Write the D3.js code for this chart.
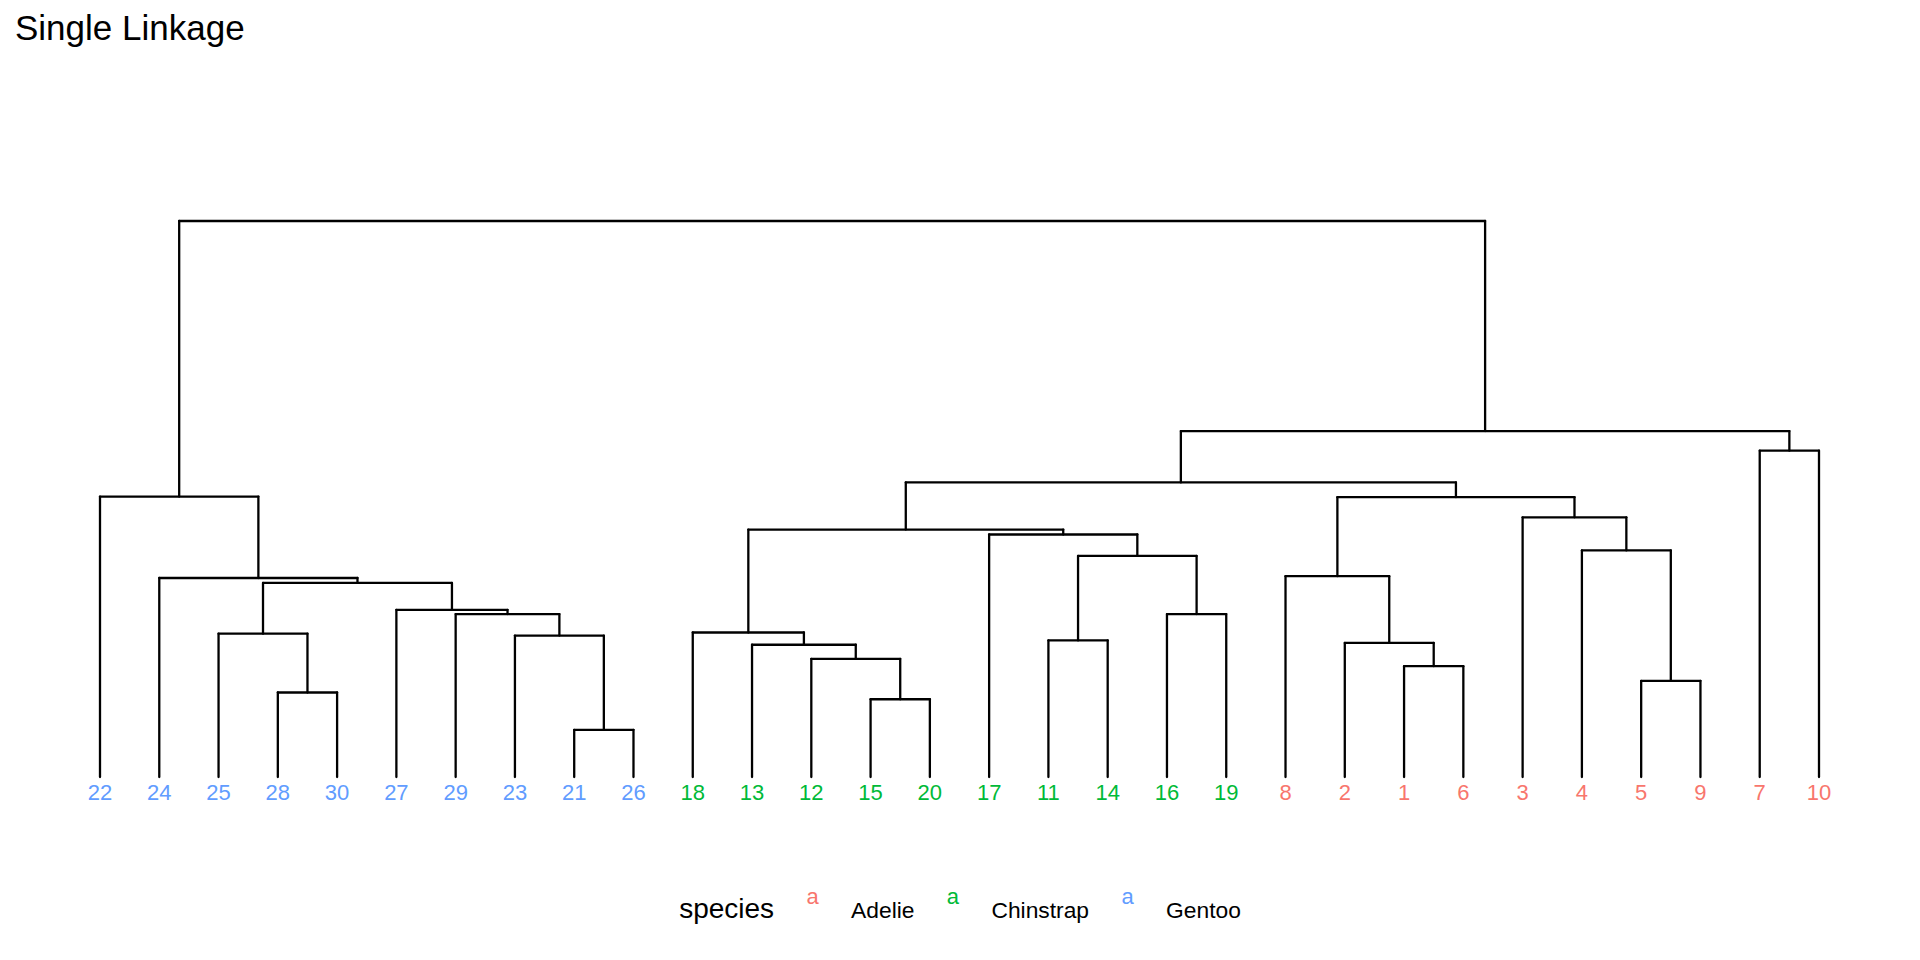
<!DOCTYPE html>
<html>
<head>
<meta charset="utf-8">
<script src="https://cdn.jsdelivr.net/npm/d3@7/dist/d3.min.js"></script>
<style>
    html, body { margin: 0; padding: 0; background: #fff; }
    text { font-family: "Liberation Sans", Arial, Helvetica, sans-serif; }
</style>
</head>
<body>
<div id="chart"></div>
<script>
// hclust-style merge table: negative = leaf label, positive = earlier merge (1-based)
const mergeLeft = [-21, -28, -23, -29, -27, -25, 6, -24, -22, -15, -12, -13, -18, -11, -16, 14, -17, 13, -1, -2, -8, -5, -4, -3, 21, 18, -7, 26, 9];
const mergeRight = [-26, -30, 1, 3, 4, 2, 5, 7, 8, -20, 10, 11, 12, -14, -19, 15, 16, 17, -6, 19, 20, -9, 22, 23, 24, 25, -10, 27, 28];
const mergeHeight = [0.385, 0.69, 1.155, 1.33, 1.365, 1.17, 1.585, 1.625, 2.29,
    0.635, 0.965, 1.08, 1.18, 1.115, 1.33, 1.805, 1.98, 2.02,
    0.905, 1.095, 1.64, 0.785, 1.85, 2.12, 2.285, 2.405, 2.665, 2.825, 4.54];

const speciesNames = ["Adelie", "Chinstrap", "Gentoo"];
const speciesColors = ["#F8766D", "#00BA38", "#619CFF"];
// observation -> species (1-10 Adelie, 11-20 Chinstrap, 21-30 Gentoo)
const obsSpecies = ["Adelie", "Adelie", "Adelie", "Adelie", "Adelie", "Adelie", "Adelie", "Adelie", "Adelie", "Adelie",
    "Chinstrap", "Chinstrap", "Chinstrap", "Chinstrap", "Chinstrap", "Chinstrap", "Chinstrap", "Chinstrap", "Chinstrap", "Chinstrap",
    "Gentoo", "Gentoo", "Gentoo", "Gentoo", "Gentoo", "Gentoo", "Gentoo", "Gentoo", "Gentoo", "Gentoo"];

const width = 1920, height = 960;

function buildNode(id) {
    if (id < 0) return {name: String(-id), height: 0};
    const i = id - 1;
    return {
        height: mergeHeight[i],
        children: [buildNode(mergeLeft[i]), buildNode(mergeRight[i])]
    };
}

const root = d3.hierarchy(buildNode(mergeLeft.length));
const leaves = root.leaves();

const x = d3.scalePoint()
    .domain(leaves.map(d => d.data.name))
    .range([100, 1819]);

const y = d3.scaleLinear()
    .domain([0, root.data.height])
    .range([777, 221]);

const color = d3.scaleOrdinal().domain(speciesNames).range(speciesColors);

// x of internal nodes = midpoint of children
root.eachAfter(d => {
    d.px = d.children ? (d.children[0].px + d.children[1].px) / 2 : x(d.data.name);
    d.py = y(d.data.height);
});

const svg = d3.select("#chart")
    .append("svg")
    .attr("width", width)
    .attr("height", height);

svg.append("text")
    .attr("x", 15)
    .attr("y", 40)
    .attr("font-size", 35)
    .attr("fill", "#000")
    .text("Single Linkage");

const segs = [];
root.each(d => {
    if (!d.children) return;
    const [a, b] = d.children;
    segs.push({x1: a.px, y1: d.py, x2: b.px, y2: d.py});
    segs.push({x1: a.px, y1: a.py, x2: a.px, y2: d.py});
    segs.push({x1: b.px, y1: b.py, x2: b.px, y2: d.py});
});

svg.append("g")
    .attr("class", "branches")
    .selectAll("line")
    .data(segs)
    .enter()
    .append("line")
    .attr("x1", d => d.x1).attr("y1", d => d.y1)
    .attr("x2", d => d.x2).attr("y2", d => d.y2)
    .attr("stroke", "#000")
    .attr("stroke-width", 2.3)
    .attr("stroke-linecap", "round");

svg.append("g")
    .attr("class", "labels")
    .selectAll("text")
    .data(leaves)
    .enter()
    .append("text")
    .attr("x", d => d.px)
    .attr("y", 800)
    .attr("text-anchor", "middle")
    .attr("font-size", 22)
    .attr("fill", d => color(obsSpecies[+d.data.name - 1]))
    .text(d => d.data.name);

// legend, laid out left to right and centred
const legend = svg.append("g").attr("class", "legend");
const gap = 38.5;
const title = legend.append("text")
    .attr("y", 918)
    .attr("font-size", 28)
    .text("species");
let cursor = title.node().getComputedTextLength();
const items = speciesNames.map(s => {
    const key = legend.append("text")
        .attr("y", 904)
        .attr("text-anchor", "middle")
        .attr("font-size", 22)
        .attr("fill", color(s))
        .text("a");
    const label = legend.append("text")
        .attr("y", 918)
        .attr("font-size", 22.8)
        .text(s);
    const keyX = cursor + gap;
    const labelX = keyX + gap;
    cursor = labelX + label.node().getComputedTextLength();
    return {key, label, keyX, labelX};
});
const offset = width / 2 - cursor / 2;
title.attr("x", offset);
items.forEach(d => {
    d.key.attr("x", offset + d.keyX);
    d.label.attr("x", offset + d.labelX);
});
</script>
</body>
</html>
